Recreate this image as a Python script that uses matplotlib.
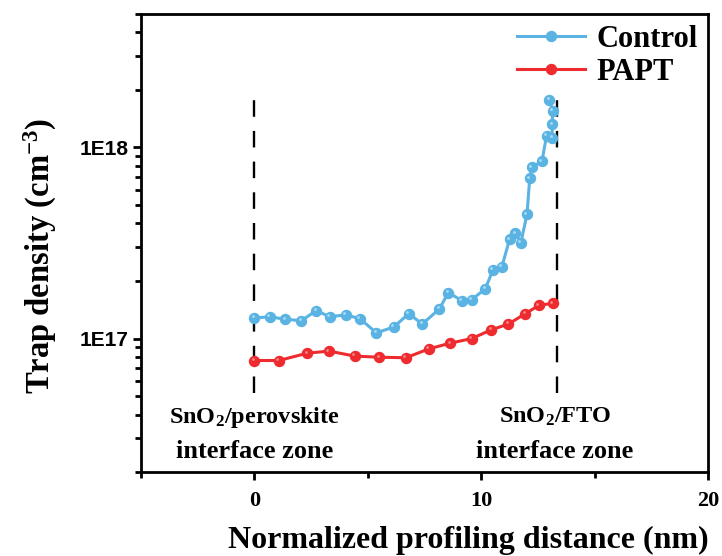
import numpy as np
import matplotlib.pyplot as plt
from matplotlib.ticker import FixedLocator, LogLocator, NullFormatter, FixedFormatter
from matplotlib.transforms import ScaledTranslation

plt.rcParams['font.family'] = 'Liberation Serif'
plt.rcParams['font.weight'] = 'bold'
plt.rcParams['mathtext.fontset'] = 'custom'
plt.rcParams['mathtext.rm'] = 'Liberation Serif:bold'
plt.rcParams['mathtext.bf'] = 'Liberation Serif:bold'
plt.rcParams['mathtext.it'] = 'Liberation Serif:bold'

# trap density profiles (cm^-3) vs normalized distance (nm)
x_control = [0, 0.69, 1.36, 2.07, 2.73, 3.32, 4.03, 4.65, 5.38, 6.15, 6.81, 7.4,
             8.16, 8.55, 9.14, 9.59, 10.18, 10.52, 10.91, 11.25, 11.5, 11.75,
             12.02, 12.14, 12.24, 12.68, 12.88, 13.13, 13.13, 13.15, 13.0]
y_control = [1.28e17, 1.30e17, 1.26e17, 1.24e17, 1.40e17, 1.30e17, 1.33e17, 1.27e17,
             1.07e17, 1.15e17, 1.35e17, 1.19e17, 1.43e17, 1.74e17, 1.58e17, 1.60e17,
             1.82e17, 2.29e17, 2.37e17, 3.30e17, 3.55e17, 3.18e17, 4.47e17, 6.89e17,
             7.87e17, 8.47e17, 1.15e18, 1.12e18, 1.32e18, 1.55e18, 1.78e18]

x_papt = [0, 1.08, 2.33, 3.29, 4.42, 5.5, 6.68, 7.7, 8.63, 9.59, 10.44, 11.2,
          11.95, 12.54, 13.17]
y_papt = [7.67e16, 7.67e16, 8.38e16, 8.59e16, 8.09e16, 7.98e16, 7.93e16, 8.83e16,
          9.45e16, 1.00e17, 1.11e17, 1.19e17, 1.35e17, 1.49e17, 1.53e17]

# interface boundaries (nm)
x_boundaries = [0, 13.35]

blue = '#5AB3E2'
red = '#EE2B2E'
blue_hl = '#A9DCF5'
red_hl = '#F78585'

fig = plt.figure(figsize=(7.22, 5.56), dpi=100)
ax = fig.add_axes([0.1953, 0.151, 0.7853, 0.824])

for xb in x_boundaries:
    ax.plot([xb, xb], [5.2e16, 1.85e18], color='black', lw=1.7,
            dashes=(7, 6), zorder=1)

hl = ScaledTranslation(-1.6 / 100, 1.6 / 100, fig.dpi_scale_trans)
for xs, ys, c, chl, lab in [(x_control, y_control, blue, blue_hl, 'Control'),
                            (x_papt, y_papt, red, red_hl, 'PAPT')]:
    ax.plot(xs, ys, color=c, lw=2.2, marker='o', ms=7.2, mec=c, mfc=c,
            label=lab, zorder=3)
    # small highlight spot on each marker
    ax.plot(xs, ys, ls='none', marker='o', ms=2.0, mec='none', mfc=chl,
            transform=ax.transData + hl, zorder=4)

ax.set_yscale('log')
ax.set_xlim(-5, 20)
ax.set_ylim(2e16, 5e18)

ax.xaxis.set_major_locator(FixedLocator([0, 10, 20]))
ax.xaxis.set_minor_locator(FixedLocator([-5, 5, 15]))
ax.yaxis.set_major_locator(FixedLocator([1e17, 1e18]))
ax.yaxis.set_major_formatter(FixedFormatter(['1E17', '1E18']))
ax.yaxis.set_minor_locator(LogLocator(base=10, subs=np.arange(2, 10)))
ax.yaxis.set_minor_formatter(NullFormatter())

ax.tick_params(axis='both', which='major', direction='out', length=6, width=2)
ax.tick_params(axis='both', which='minor', direction='out', length=4, width=2)
ax.tick_params(axis='x', labelsize=16, pad=8)
ax.tick_params(axis='y', labelsize=15, pad=3)
for lbl in ax.get_yticklabels():
    lbl.set_fontfamily('Liberation Sans')
    lbl.set_fontweight('bold')
for s in ax.spines.values():
    s.set_linewidth(2)

ax.set_xlabel('Normalized profiling distance (nm)', fontsize=23,
              fontweight='bold')
ax.xaxis.set_label_coords(0.578, -0.118)
ax.set_ylabel('Trap density (cm$^{-3}$)', fontsize=23.5, fontweight='bold')
ax.yaxis.set_label_coords(-0.145, 0.472)

trans = ax.get_xaxis_transform()
ax.text(0, 0.12, 'SnO$_2$/perovskite', transform=trans, ha='center',
        va='center', fontsize=17.5, fontweight='bold')
ax.text(0, 0.044, 'interface zone', transform=trans, ha='center',
        va='center', fontsize=19, fontweight='bold')
ax.text(13.25, 0.12, 'SnO$_2$/FTO', transform=trans, ha='center',
        va='center', fontsize=17.5, fontweight='bold')
ax.text(13.25, 0.044, 'interface zone', transform=trans, ha='center',
        va='center', fontsize=19, fontweight='bold')

ax.legend(loc='upper right', frameon=False, fontsize=22, markerscale=1.0,
          handlelength=2.25, handletextpad=0.35, labelspacing=0.15,
          borderaxespad=0.15, borderpad=0.2)

fig.savefig('out.png', dpi=100)
